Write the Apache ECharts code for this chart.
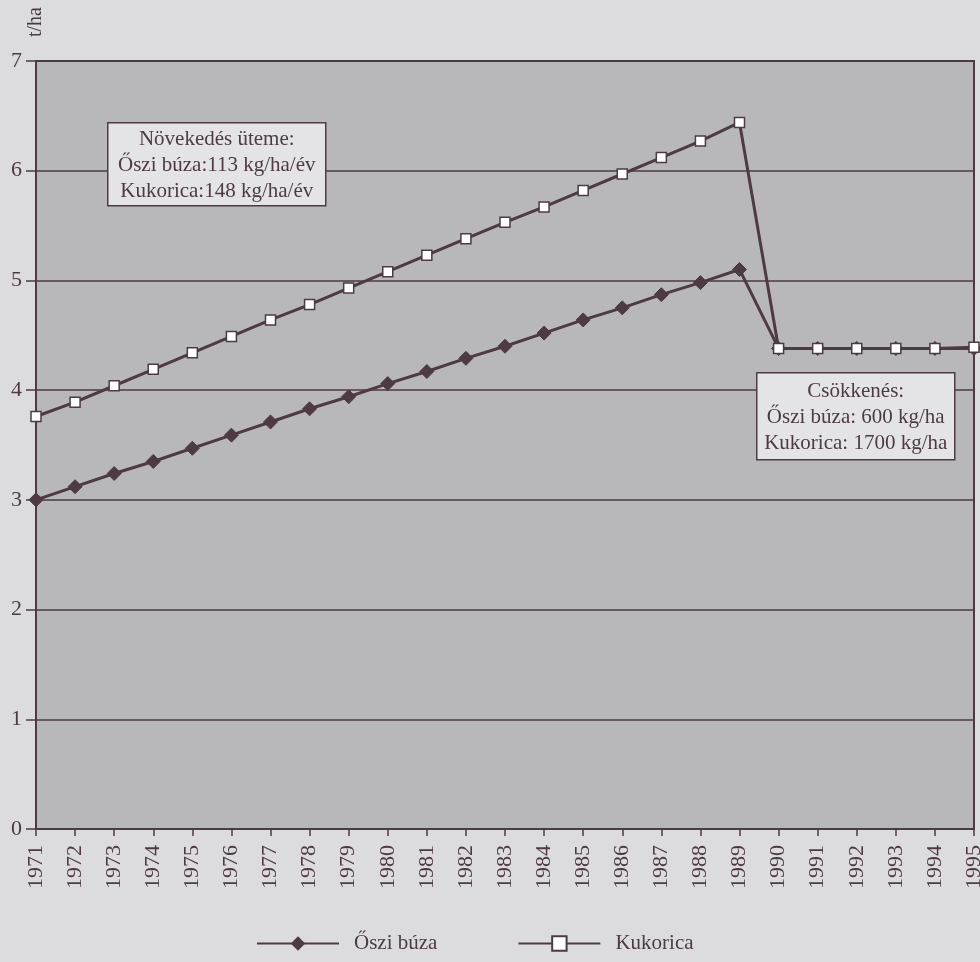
<!DOCTYPE html>
<html><head><meta charset="utf-8">
<script src="https://cdn.jsdelivr.net/npm/echarts@6/dist/echarts.min.js"></script>
<style>html,body{margin:0;padding:0;background:#dcdce0;overflow:hidden}#c{width:980px;height:962px}</style>
</head><body><div id="c"></div>
<script>
const years = ['1971','1972','1973','1974','1975','1976','1977','1978','1979','1980','1981','1982','1983','1984','1985','1986','1987','1988','1989','1990','1991','1992','1993','1994','1995'];
const wheat = [3.00,3.12,3.24,3.35,3.47,3.59,3.71,3.83,3.94,4.06,4.17,4.29,4.40,4.52,4.64,4.75,4.87,4.98,5.10,4.38,4.38,4.38,4.38,4.38,4.38];
const corn  = [3.76,3.89,4.04,4.19,4.34,4.49,4.64,4.78,4.93,5.08,5.23,5.38,5.53,5.67,5.82,5.97,6.12,6.27,6.44,4.38,4.38,4.38,4.38,4.38,4.39];
const yTicks = [0,1,2,3,4,5,6,7];
const yUnit = 't/ha';
const note1 = ['Növekedés üteme:','Őszi búza:113 kg/ha/év','Kukorica:148 kg/ha/év'];
const note2 = ['Csökkenés:','Őszi búza: 600 kg/ha','Kukorica: 1700 kg/ha'];

const ink = '#4e3a42';
const font = '"Liberation Serif","DejaVu Serif",serif';
const chart = echarts.init(document.getElementById('c'));
chart.setOption({
  backgroundColor: '#dcdce0',
  animation: false,
  textStyle: {fontFamily: font, color: ink},
  grid: {left: 36, right: 6, top: 61, bottom: 133, outerBoundsMode: 'none', containLabel: false,
    show: true, backgroundColor: '#b8b8bb', borderColor: ink, borderWidth: 2},
  legend: {
    bottom: 3, left: 251, itemGap: 80, itemWidth: 82, itemHeight: 18,
    textStyle: {fontFamily: font, fontSize: 21, color: ink, padding: [0,0,0,10]},
    data: ['Őszi búza','Kukorica']
  },
  xAxis: {
    type: 'category', data: years, boundaryGap: false,
    axisLine: {lineStyle: {color: ink, width: 2}},
    axisTick: {show: true, length: 7, lineStyle: {color: ink, width: 1.5}},
    axisLabel: {rotate: 90, fontFamily: font, fontSize: 22, color: ink, margin: 16, interval: 0}
  },
  yAxis: {
    type: 'value', min: 0, max: 7, interval: 1,
    axisLine: {show: true, lineStyle: {color: ink, width: 2}},
    axisTick: {show: true, length: 10, lineStyle: {color: ink, width: 1.5}},
    axisLabel: {fontFamily: font, fontSize: 22, color: ink, margin: 14,
      formatter: v => yTicks.includes(v) ? String(v) : ''},
    splitLine: {show: true, lineStyle: {color: ink, width: 1.5}}
  },
  series: [
    {name: 'Őszi búza', type: 'line', data: wheat, symbol: 'diamond', symbolSize: 14,
      lineStyle: {color: ink, width: 3}, itemStyle: {color: ink, borderColor: ink}, z: 3},
    {name: 'Kukorica', type: 'line', data: corn, symbol: 'rect', symbolSize: 10,
      lineStyle: {color: ink, width: 3}, itemStyle: {color: '#ffffff', borderColor: ink, borderWidth: 1.5}, z: 4}
  ],
  graphic: [
    {type: 'text', left: 26, top: 7, z: 100, rotation: Math.PI / 2,
      style: {text: yUnit, fill: ink, font: '20px ' + font}},
    {type: 'group', left: 107, top: 122, z: 100, children: [
      {type: 'rect', z: 100, shape: {x: 0, y: 0, width: 218, height: 83},
        style: {fill: '#e4e4e8', stroke: ink, lineWidth: 1.5}},
      {type: 'text', z: 101, style: {x: 109, y: 4, text: note1.join('\n'), fill: ink,
        font: '21px ' + font, align: 'center', lineHeight: 26}}
    ]},
    {type: 'group', left: 756, top: 372, z: 100, children: [
      {type: 'rect', z: 100, shape: {x: 0, y: 0, width: 198, height: 87},
        style: {fill: '#e4e4e8', stroke: ink, lineWidth: 1.5}},
      {type: 'text', z: 101, style: {x: 99, y: 6, text: note2.join('\n'), fill: ink,
        font: '21px ' + font, align: 'center', lineHeight: 26}}
    ]}
  ]
});
</script></body></html>
